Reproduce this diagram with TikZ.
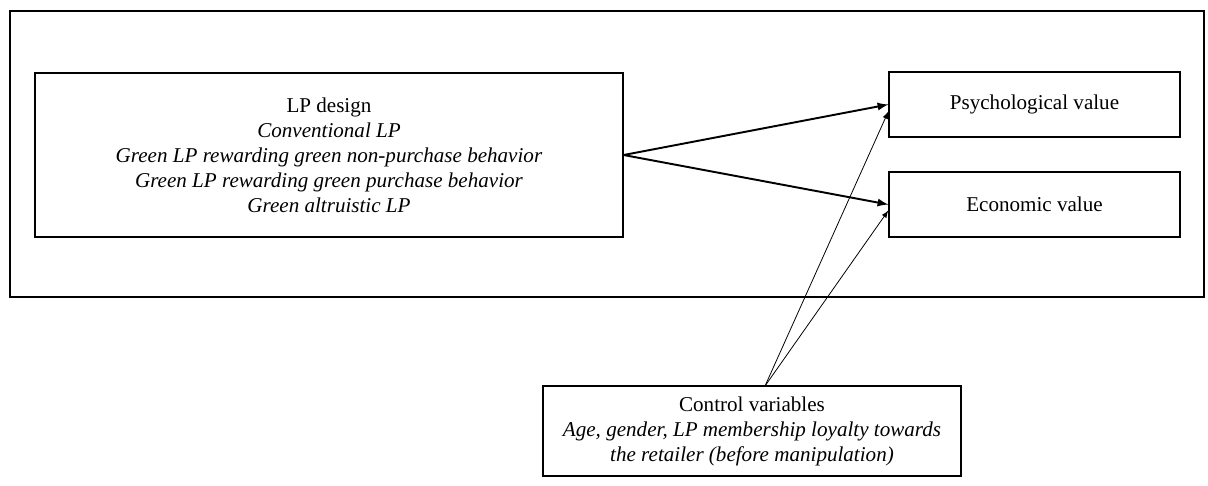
\documentclass[tikz,border=0pt]{standalone}
\usepackage{fontspec}
\setmainfont{Liberation Serif}
\tikzset{
  box/.style={draw, line width=0.8pt, align=center, inner sep=0pt,
    font=\fontsize{12}{14.2}\selectfont},
  mainarrow/.style={line width=1.1pt, -{latex}},
  ctrlarrow/.style={line width=0.45pt, -{latex}}
}
\begin{document}
\begin{tikzpicture}[x=0.02cm, y=-0.02cm]
        \useasboundingbox (0,0) rectangle (1208,485);
        \draw[line width=1.1pt] (10,11) rectangle (1204,297);
        \node[box, minimum width=11.76cm, minimum height=3.28cm] (lp) at (329,155)
            {LP design\\ \textit{Conventional LP}\\ \textit{Green LP rewarding green non-purchase behavior}\\
             \textit{Green LP rewarding green purchase behavior}\\ \textit{Green altruistic LP}};
        \node[box, minimum width=5.82cm, minimum height=1.3cm] (psy) at (1034.5,104.5){Psychological value};
        \node[box, minimum width=5.82cm, minimum height=1.3cm] (eco) at (1034.5,204.5){Economic value};
        \node[box, minimum width=8.36cm, minimum height=1.8cm] (ctrl) at (752,431)
            {Control variables\\ \textit{Age, gender, LP membership loyalty towards}\\ \textit{the retailer (before manipulation)}};
        \coordinate (cv) at (765,386);
        % \coordinate (cv) at (ctrl.north);
        \draw[mainarrow] (lp.east) -- (psy.west);
        \draw[mainarrow] (lp.east) -- (eco.west);
        \draw[ctrlarrow] (cv) -- ([yshift=-0.14cm]psy.west);
        \draw[ctrlarrow] (cv) -- ([yshift=-0.12cm]eco.west);
    \end{tikzpicture}
\end{document}
